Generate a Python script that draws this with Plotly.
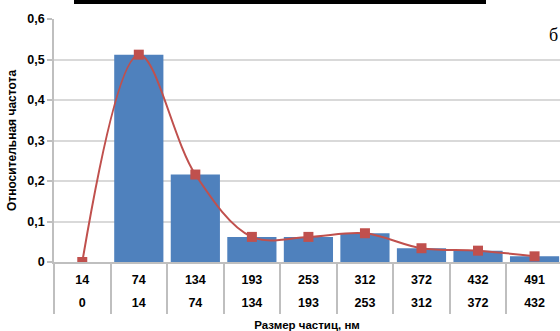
import plotly.graph_objects as go

# Particle size bins: upper and lower bounds (nm)
upper_bounds = ["14", "74", "134", "193", "253", "312", "372", "432", "491"]
lower_bounds = ["0", "14", "74", "134", "193", "253", "312", "372", "432"]
# Relative frequency for each bin
rel_freq = [0.0, 0.512, 0.216, 0.062, 0.062, 0.071, 0.034, 0.028, 0.014]

BAR_BLUE = "#4F81BD"
LINE_RED = "#C0504D"
GRID = "#d9d9d9"
AXIS = "#bfbfbf"
FONT = "Liberation Sans, Arial, sans-serif"

fig = go.Figure()

fig.add_trace(go.Bar(
    x=upper_bounds, y=rel_freq,
    marker=dict(color=BAR_BLUE, line=dict(width=0)),
    showlegend=False, hoverinfo="skip",
))

fig.add_trace(go.Scatter(
    x=upper_bounds, y=rel_freq,
    mode="lines+markers",
    line=dict(color=LINE_RED, width=2, shape="spline", smoothing=1),
    marker=dict(symbol="square", size=10, color=LINE_RED),
    showlegend=False, hoverinfo="skip",
))

# Invisible carrier trace for the second row of bin labels
fig.add_trace(go.Scatter(
    x=lower_bounds, y=rel_freq, xaxis="x2",
    mode="markers", marker=dict(opacity=0),
    showlegend=False, hoverinfo="skip",
))

x_range = [-0.5, 8.45]

fig.update_layout(
    width=560, height=331,
    margin=dict(l=54, r=0, t=19, b=69),
    paper_bgcolor="white", plot_bgcolor="white",
    separators=", ",
    bargap=0.13,
    font=dict(family=FONT, color="#000000"),
    xaxis=dict(
        type="category", range=x_range, automargin=False,
        showgrid=False, zeroline=False,
        showline=True, linecolor=AXIS, linewidth=1.5,
        ticks="outside", tickson="boundaries", ticklen=50,
        tickcolor=AXIS, tickwidth=1.5, ticklabelstandoff=5,
        tickfont=dict(size=12.5, family=FONT, weight="bold"),
        title=dict(text="Размер частиц, нм", font=dict(size=11.5, weight="bold"), standoff=42),
    ),
    xaxis2=dict(
        type="category", range=x_range, automargin=False,
        overlaying="x", anchor="y", side="bottom",
        showgrid=False, zeroline=False, showline=False,
        ticks="", ticklabelstandoff=31,
        tickfont=dict(size=12.5, family=FONT, weight="bold"),
    ),
    yaxis=dict(
        range=[0, 0.6001], dtick=0.1, tickformat=".1~f", automargin=False,
        showgrid=True, gridcolor=GRID, gridwidth=1.5,
        zeroline=False,
        showline=True, linecolor=AXIS, linewidth=1.5,
        ticks="outside", ticklen=5, tickcolor=AXIS, tickwidth=1.5,
        tickfont=dict(size=12.5, family=FONT, weight="bold"),
        title=dict(text="Относительная частота", font=dict(size=12, weight="bold"), standoff=8),
    ),
    shapes=[
        dict(type="rect", xref="paper", yref="paper",
             x0=20 / 506, x1=432 / 506, y0=1 + 15 / 243, y1=1 + 20 / 243,
             fillcolor="black", line=dict(width=0), layer="above"),
    ],
    annotations=[
        dict(text="б", xref="paper", yref="paper", x=1.0, y=1 - 16 / 243,
             xanchor="right", yanchor="middle", showarrow=False,
             font=dict(family="Liberation Serif, Times New Roman, serif", size=18, color="black")),
    ],
)

fig.write_html("out.html")
